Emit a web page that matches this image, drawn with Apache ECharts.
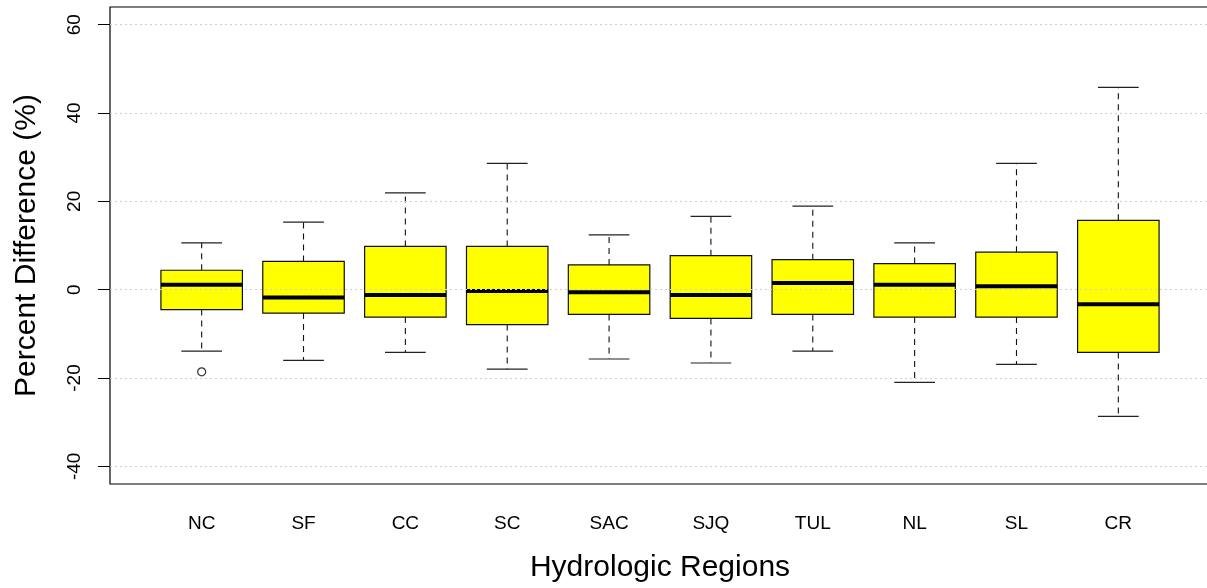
<!DOCTYPE html>
<html>
<head>
<meta charset="utf-8">
<script src="https://cdn.jsdelivr.net/npm/echarts@6/dist/echarts.min.js"></script>
<style>
  html, body { margin: 0; padding: 0; background: #fff; }
  #chart { width: 1207px; height: 588px; }
</style>
</head>
<body>
<div id="chart"></div>
<script>
// Percent difference by hydrologic region: five-number summaries per region
const categories  = ['NC', 'SF', 'CC', 'SC', 'SAC', 'SJQ', 'TUL', 'NL', 'SL', 'CR'];
const whiskerLow  = [-13.9, -16.0, -14.2, -18.0, -15.7, -16.6, -13.9, -21.0, -16.9, -28.7];
const quartile1   = [ -4.5,  -5.3,  -6.2,  -7.9,  -5.6,  -6.5,  -5.6,  -6.2,  -6.2, -14.2];
const medians     = [  1.1,  -1.8,  -1.2,  -0.3,  -0.6,  -1.2,   1.5,   1.1,   0.8,  -3.3];
const quartile3   = [  4.4,   6.4,   9.8,   9.8,   5.6,   7.7,   6.8,   5.9,   8.5,  15.7];
const whiskerHigh = [ 10.6,  15.3,  21.9,  28.6,  12.4,  16.6,  18.9,  10.6,  28.6,  45.8];
// outlying points: [region index (1-based), value]
const outliers    = [[1, -18.6]];
const yTicks      = [-40, -20, 0, 20, 40, 60];

const FONT = '"Liberation Sans", Arial, Helvetica, sans-serif';
const xPositions = categories.map((_, i) => i + 1);

const boxData = categories.map((_, i) => [
  i + 1, whiskerLow[i], quartile1[i], medians[i], quartile3[i], whiskerHigh[i]
]);

function renderBox(params, api) {
  const x = api.value(0);
  const pLow = api.coord([x, api.value(1)]);
  const pQ1 = api.coord([x, api.value(2)]);
  const pMed = api.coord([x, api.value(3)]);
  const pQ3 = api.coord([x, api.value(4)]);
  const pHigh = api.coord([x, api.value(5)]);
  const halfBox = api.size([0.8, 0])[0] / 2;
  const halfCap = api.size([0.4, 0])[0] / 2;
  const cx = pMed[0];
  const dashed = { stroke: '#111', lineWidth: 1.1, lineDash: [6, 5] };
  const solid = { stroke: '#222', lineWidth: 1.2 };
  return {
    type: 'group',
    children: [
      { type: 'line', shape: { x1: cx, y1: pQ3[1], x2: cx, y2: pHigh[1] }, style: dashed },
      { type: 'line', shape: { x1: cx, y1: pQ1[1], x2: cx, y2: pLow[1] }, style: dashed },
      { type: 'line', shape: { x1: cx - halfCap, y1: pHigh[1], x2: cx + halfCap, y2: pHigh[1] }, style: solid },
      { type: 'line', shape: { x1: cx - halfCap, y1: pLow[1], x2: cx + halfCap, y2: pLow[1] }, style: solid },
      {
        type: 'rect',
        shape: { x: cx - halfBox, y: pQ3[1], width: 2 * halfBox, height: pQ1[1] - pQ3[1] },
        style: { fill: '#FFFF00', stroke: '#111', lineWidth: 1.2 }
      },
      {
        type: 'line',
        shape: { x1: cx - halfBox, y1: pMed[1], x2: cx + halfBox, y2: pMed[1] },
        style: { stroke: '#000', lineWidth: 4 }
      }
    ]
  };
}

const chart = echarts.init(document.getElementById('chart'), null, { renderer: 'canvas' });

chart.setOption({
  backgroundColor: '#ffffff',
  animation: false,
  grid: {
    left: 110, top: 7, width: 1100, height: 477,
    outerBoundsMode: 'none',
    containLabel: false,
    show: true, borderColor: '#000', borderWidth: 1.2, backgroundColor: 'transparent'
  },
  xAxis: {
    type: 'value',
    min: 0.1, max: 10.9,
    name: 'Hydrologic Regions',
    nameLocation: 'middle',
    nameGap: 69,
    nameTextStyle: { fontFamily: FONT, fontSize: 30, color: '#000', lineHeight: 30 },
    axisLine: { show: false },
    splitLine: { show: false },
    axisTick: { show: true, length: 12, customValues: xPositions, lineStyle: { color: '#000', width: 1 } },
    axisLabel: {
      customValues: xPositions,
      margin: 30,
      fontFamily: FONT, fontSize: 19, color: '#000', lineHeight: 19,
      formatter: v => categories[Math.round(v) - 1]
    }
  },
  yAxis: {
    type: 'value',
    min: -44, max: 64,
    name: 'Percent Difference (%)',
    nameLocation: 'middle',
    nameGap: 68,
    nameTextStyle: { fontFamily: FONT, fontSize: 30, color: '#000', lineHeight: 30 },
    axisLine: { show: false },
    splitLine: { show: false },
    axisTick: { show: true, length: 12, customValues: yTicks, lineStyle: { color: '#000', width: 1 } },
    axisLabel: {
      customValues: yTicks,
      rotate: 90,
      margin: 26,
      fontFamily: FONT, fontSize: 19, color: '#000', lineHeight: 19
    }
  },
  series: [
    {
      type: 'custom',
      name: 'boxes',
      renderItem: renderBox,
      encode: { x: 0, y: [1, 2, 3, 4, 5] },
      data: boxData,
      z: 2
    },
    {
      type: 'scatter',
      name: 'outliers',
      data: outliers,
      symbol: 'circle',
      symbolSize: 8,
      itemStyle: { color: '#fff', borderColor: '#000', borderWidth: 1.2 },
      z: 3
    },
    {
      // horizontal reference lines drawn over the boxes
      type: 'line',
      name: 'reference',
      data: [],
      z: 4,
      silent: true,
      markLine: {
        silent: true,
        symbol: ['none', 'none'],
        label: { show: false },
        lineStyle: { color: '#cfcfcf', type: [2, 3], width: 1 },
        data: yTicks.map(v => ({ yAxis: v }))
      }
    }
  ]
});
</script>
</body>
</html>
